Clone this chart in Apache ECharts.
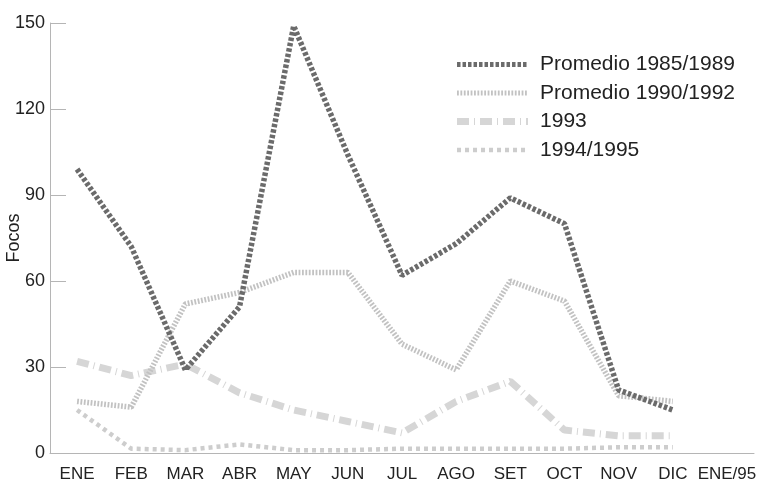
<!DOCTYPE html>
<html>
<head>
<meta charset="utf-8">
<script src="https://cdn.jsdelivr.net/npm/echarts@6/dist/echarts.min.js"></script>
<style>
  html, body { margin: 0; padding: 0; background: #fff; }
  #chart { width: 769px; height: 483px; }
</style>
</head>
<body>
<div id="chart"></div>
<script>
  // categorias y valores
  const meses = ['ENE', 'FEB', 'MAR', 'ABR', 'MAY', 'JUN', 'JUL', 'AGO', 'SET', 'OCT', 'NOV', 'DIC', 'ENE/95'];
  const prom8589 = [99, 72, 29, 51, 149, 104, 62, 73, 89, 80, 22, 15];
  const prom9092 = [18, 16, 52, 56, 63, 63, 38, 29, 60, 53, 20, 18];
  const anio1993 = [32, 27, 31, 21, 15, 11, 7, 18, 25, 8, 6, 6];
  const anio9495 = [15, 1.5, 1, 3, 1, 1, 1.5, 1.5, 1.5, 1.5, 2, 2];
  const yTicks = [0, 30, 60, 90, 120, 150];

  const fuente = "'Liberation Sans', Arial, sans-serif";

  let myChart = echarts.init(document.getElementById('chart'));
  myChart.setOption({
    animation: false,
    grid: { left: 50, right: 15, top: 23, bottom: 30, outerBoundsMode: 'none', containLabel: false },
    legend: {
      orient: 'vertical',
      right: 29,
      top: 49,
      itemWidth: 71,
      itemHeight: 14,
      itemGap: 7.5,
      itemStyle: { opacity: 0 },
      textStyle: { fontFamily: fuente, fontSize: 21, color: '#222', padding: [0, 0, 0, 7] },
      data: [
        { name: 'Promedio 1985/1989', lineStyle: { width: 5 } },
        { name: 'Promedio 1990/1992', lineStyle: { width: 5 } },
        { name: '1993', lineStyle: { width: 7 } },
        { name: '1994/1995', lineStyle: { width: 4.5 } }
      ]
    },
    xAxis: {
      type: 'category',
      data: meses,
      boundaryGap: true,
      axisLine: { lineStyle: { color: '#b5b5b5', width: 1 } },
      axisTick: { inside: true, length: 11, lineStyle: { color: '#b5b5b5' } },
      axisLabel: { interval: 0, fontFamily: fuente, fontSize: 17, color: '#222', margin: 13 }
    },
    yAxis: {
      type: 'value',
      min: yTicks[0],
      max: yTicks[yTicks.length - 1],
      interval: 30,
      name: 'Focos',
      nameLocation: 'middle',
      nameGap: 27,
      nameMoveOverlap: false,
      nameTextStyle: { fontFamily: fuente, fontSize: 18, color: '#222' },
      splitLine: { show: false },
      axisLine: { show: true, lineStyle: { color: '#b5b5b5', width: 1 } },
      axisTick: { show: true, inside: true, length: 16, lineStyle: { color: '#b5b5b5' } },
      axisLabel: { fontFamily: fuente, fontSize: 18, color: '#222', margin: 5 }
    },
    series: [
      {
        name: 'Promedio 1985/1989',
        type: 'line',
        symbol: 'none',
        data: prom8589,
        lineStyle: { color: '#6b6b6b', width: 5.5, type: [3.5, 2] },
        itemStyle: { color: '#6b6b6b' },
        z: 5
      },
      {
        name: 'Promedio 1990/1992',
        type: 'line',
        symbol: 'none',
        data: prom9092,
        lineStyle: { color: '#c2c2c2', width: 5.5, type: [1.8, 1.6] },
        itemStyle: { color: '#c2c2c2' },
        z: 4
      },
      {
        name: '1993',
        type: 'line',
        symbol: 'none',
        data: anio1993,
        lineStyle: { color: '#d6d6d6', width: 7, type: [12, 5, 1, 5] },
        itemStyle: { color: '#d6d6d6' },
        z: 3
      },
      {
        name: '1994/1995',
        type: 'line',
        symbol: 'none',
        data: anio9495,
        lineStyle: { color: '#cdcdcd', width: 4.5, type: [4, 4] },
        itemStyle: { color: '#cdcdcd' },
        z: 2
      }
    ]
  });
</script>
</body>
</html>
